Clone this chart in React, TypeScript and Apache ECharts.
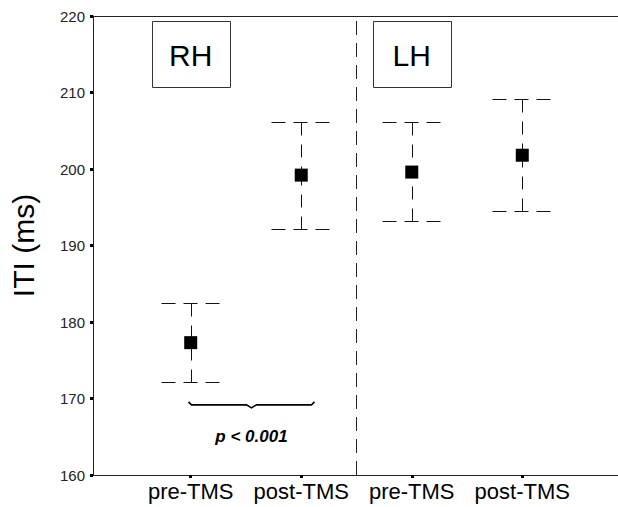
import React, { useEffect, useRef } from "react";
import * as echarts from "echarts";

const categories = ["pre-TMS", "post-TMS", "pre-TMS", "post-TMS"];
const positions = [1, 2, 3, 4];
const hemispheres = ["RH", "LH"];
const hemisphereCenters = [1, 3];
const means = [177.3, 199.2, 199.6, 201.8];
const upper = [182.5, 206.1, 206.1, 209.2];
const lower = [172.2, 192.2, 193.2, 194.5];
const dividerAt = 2.5;
const yTicks = { min: 160, max: 220, interval: 10 };
const pText = "p < 0.001";
const braceSpan = [0.98, 2.12];
const braceValue = 169.3;
const pValueY = 165;

const FONT = "'Liberation Sans', Arial, Helvetica, sans-serif";

export default function App() {
  const ref = useRef<HTMLDivElement>(null);

  useEffect(() => {
    if (!ref.current) return;
    const chart = echarts.init(ref.current, null, { renderer: "svg" });

    const errData = positions.map((p, i) => [p, lower[i], upper[i], means[i]]);
    const meanData = positions.map((p, i) => [p, means[i]]);

    const option: any = {
      animation: false,
      backgroundColor: "#ffffff",
      grid: { left: 93, right: 0, top: 16, bottom: 32, containLabel: false },
      xAxis: [
        {
          type: "value",
          min: 0.116,
          max: 4.866,
          position: "bottom",
          axisLine: { show: true, lineStyle: { color: "#222", width: 1 } },
          axisTick: {
            show: true,
            length: 3,
            customValues: positions,
            lineStyle: { color: "#000", width: 3 },
          },
          axisLabel: {
            show: true,
            customValues: positions,
            formatter: (v: number) => {
              const idx = positions.indexOf(Math.round(v));
              return idx >= 0 ? categories[idx] : "";
            },
            color: "#000",
            fontFamily: FONT,
            fontSize: 22,
            margin: 5,
          },
          splitLine: { show: false },
        },
        {
          type: "value",
          min: 0.116,
          max: 4.866,
          position: "top",
          axisLine: { show: true, lineStyle: { color: "#222", width: 1 } },
          axisTick: { show: false },
          axisLabel: { show: false },
          splitLine: { show: false },
        },
      ],
      yAxis: {
        type: "value",
        min: yTicks.min,
        max: yTicks.max,
        interval: yTicks.interval,
        name: "ITI (ms)",
        nameLocation: "middle",
        nameRotate: 90,
        nameGap: 55,
        nameTextStyle: { color: "#000", fontFamily: FONT, fontSize: 30 },
        axisLine: { show: true, lineStyle: { color: "#222", width: 1 } },
        axisTick: { show: true, length: 3, lineStyle: { color: "#000", width: 3 } },
        axisLabel: { color: "#222", fontFamily: FONT, fontSize: 15, margin: 8 },
        splitLine: { show: false },
      },
      series: [
        {
          type: "custom",
          xAxisIndex: 0,
          yAxisIndex: 0,
          silent: true,
          data: errData,
          renderItem: (params: any, api: any) => {
            const x = api.value(0);
            const lo = api.value(1);
            const hi = api.value(2);
            const m = api.value(3);
            const top = api.coord([x, hi]);
            const bot = api.coord([x, lo]);
            const mid = api.coord([x, m]);
            const hw = 30;
            const cx = Math.round(top[0]) + 0.5;
            const ty = Math.round(top[1]) + 0.5;
            const by = Math.round(bot[1]) + 0.5;
            const capStyle = { stroke: "#111", lineWidth: 1, lineDash: [14, 8], fill: null };
            const vStyle = { stroke: "#111", lineWidth: 1, lineDash: [13, 9], fill: null };
            return {
              type: "group",
              children: [
                { type: "line", shape: { x1: cx - hw, y1: ty, x2: cx + hw, y2: ty }, style: capStyle },
                { type: "line", shape: { x1: cx - hw, y1: by, x2: cx + hw, y2: by }, style: capStyle },
                { type: "line", shape: { x1: cx, y1: ty, x2: cx, y2: mid[1] }, style: vStyle },
                { type: "line", shape: { x1: cx, y1: by, x2: cx, y2: mid[1] }, style: vStyle },
              ],
            };
          },
          z: 2,
        },
        {
          type: "scatter",
          xAxisIndex: 0,
          yAxisIndex: 0,
          symbol: "rect",
          symbolSize: 13,
          itemStyle: { color: "#000", opacity: 1 },
          data: meanData,
          silent: true,
          z: 3,
          markLine: {
            silent: true,
            symbol: "none",
            label: { show: false },
            lineStyle: { color: "#222", width: 1, type: [14, 8] },
            data: [{ xAxis: dividerAt }],
          },
        },
      ],
    };

    chart.setOption(option);

    const px = (x: number, y: number) =>
      chart.convertToPixel({ xAxisIndex: 0, yAxisIndex: 0 }, [x, y]) as number[];

    const boxW = 78;
    const boxH = 66;
    const topPx = px(1, yTicks.max)[1];
    const graphics: any[] = [];
    hemispheres.forEach((h, i) => {
      const c = px(hemisphereCenters[i], yTicks.max);
      const left = Math.round(c[0] - boxW / 2) + 0.5;
      const top = Math.round(topPx + 5) + 0.5;
      graphics.push({
        type: "rect",
        shape: { x: left, y: top, width: boxW, height: boxH },
        style: { fill: "#fff", stroke: "#333", lineWidth: 1 },
        z: 10,
      });
      graphics.push({
        type: "text",
        x: c[0],
        y: top + boxH / 2 + 1,
        style: {
          text: h,
          fontFamily: FONT,
          fontSize: 30,
          fill: "#000",
          align: "center",
          verticalAlign: "middle",
        },
        z: 11,
      });
    });

    const b0 = px(braceSpan[0], braceValue);
    const b1 = px(braceSpan[1], braceValue);
    const xm = (b0[0] + b1[0]) / 2;
    const by = b0[1];
    graphics.push({
      type: "polyline",
      shape: {
        points: [
          [b0[0], by - 2],
          [b0[0] + 3, by + 1],
          [xm - 5, by + 1],
          [xm, by + 4],
          [xm + 5, by + 1],
          [b1[0] - 3, by + 1],
          [b1[0], by - 2],
        ],
      },
      style: { stroke: "#000", lineWidth: 1.6, fill: null },
      z: 10,
    });
    const pt = px(braceSpan[0], pValueY);
    graphics.push({
      type: "text",
      x: xm,
      y: pt[1],
      style: {
        text: pText,
        fontFamily: FONT,
        fontSize: 17,
        fontWeight: "bold",
        fontStyle: "italic",
        fill: "#000",
        align: "center",
        verticalAlign: "middle",
      },
      z: 10,
    });

    chart.setOption({ graphic: graphics });

    return () => chart.dispose();
  }, []);

  return (
    <div
      ref={ref}
      style={{ position: "fixed", left: 0, top: 0, width: 618, height: 507, background: "#fff" }}
    />
  );
}
